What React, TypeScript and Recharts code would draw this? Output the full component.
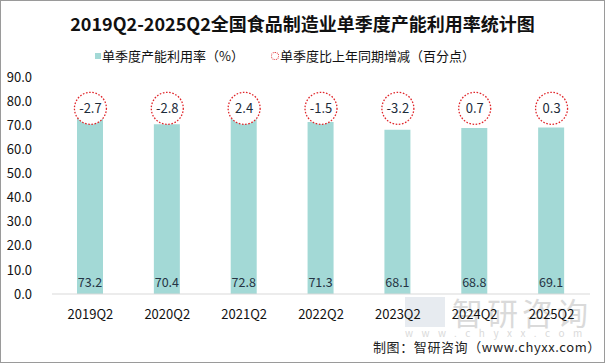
import React from 'react';
import { ComposedChart, Bar, Scatter, XAxis, YAxis, Legend, LabelList } from 'recharts';

const quarters = ['2019Q2', '2020Q2', '2021Q2', '2022Q2', '2023Q2', '2024Q2', '2025Q2'];
const utilization = [73.2, 70.4, 72.8, 71.3, 68.1, 68.8, 69.1];
const yoyChange = [-2.7, -2.8, 2.4, -1.5, -3.2, 0.7, 0.3];
// the bubbles sit on a flat helper series, like the original sheet
const bubbleLevel = [77, 77, 77, 77, 77, 77, 77];
const yTicks = [0, 10, 20, 30, 40, 50, 60, 70, 80, 90];

const chartData = quarters.map((q, i) => ({
  quarter: q,
  rate: utilization[i],
  change: yoyChange[i],
  bubble: bubbleLevel[i],
}));

const FONT = '"Noto Sans CJK SC", "Noto Sans", sans-serif';
const BAR_COLOR = '#a3d9d6';
const RED = '#e0262b';

const Bubble = (props: any) => {
  const { cx, cy, payload } = props;
  return (
    <g>
      <circle cx={cx} cy={cy} r={16} fill="#fff" stroke={RED} strokeWidth={1.3} strokeDasharray="1.6 1.6" />
      <text x={cx} y={cy} dy={4.5} textAnchor="middle" fontSize={13} fill="#1c2b3a" fontFamily={FONT}>
        {payload.change}
      </text>
    </g>
  );
};

const BottomLabel = (props: any) => {
  const { x, width, value } = props;
  return (
    <text x={x + width / 2} y={287} textAnchor="middle" fontSize={12.5} fill="#253444" fontFamily={FONT}>
      {Number(value).toFixed(1)}
    </text>
  );
};

const LegendContent = () => (
  <div style={{ display: 'flex', fontFamily: FONT, fontSize: 13, color: '#111', lineHeight: '16px' }}>
    <div style={{ position: 'absolute', left: 95, display: 'flex', alignItems: 'center' }}>
      <span style={{ width: 6, height: 6, background: BAR_COLOR, display: 'inline-block', marginRight: 1 }} />
      <span>单季度产能利用率（%）</span>
    </div>
    <div style={{ position: 'absolute', left: 271, display: 'flex', alignItems: 'center' }}>
      <span style={{ width: 6, height: 6, borderRadius: '50%', border: `1px dotted ${RED}`, display: 'inline-block', marginRight: 1 }} />
      <span>单季度比上年同期增减（百分点）</span>
    </div>
  </div>
);

export default function App() {
  return (
    <div style={{ position: 'absolute', left: 0, top: 0, width: 605, height: 363, background: '#fff', fontFamily: FONT, overflow: 'hidden' }}>
      <div style={{ position: 'absolute', left: 0, top: 10, width: 605, textAlign: 'center', fontSize: 18, fontWeight: 700, color: '#111' }}>
        2019Q2-2025Q2全国食品制造业单季度产能利用率统计图
      </div>
      <div style={{ position: 'absolute', left: 405, top: 297, width: 40, height: 30, background: '#dde3ea', opacity: 0.7 }} />
      <div style={{ position: 'absolute', left: 452, top: 292, fontSize: 31, color: '#dadada', letterSpacing: 4, lineHeight: '40px' }}>智研咨询</div>
      <div style={{ position: 'absolute', left: 405, top: 327, width: 190, fontSize: 10, color: '#dadada', letterSpacing: 8.5, lineHeight: '12px' }}>www.chyxx.com</div>
      <div style={{ position: 'absolute', left: 0, top: 0 }}>
        <ComposedChart width={605} height={363} data={chartData} margin={{ top: 77, right: 15, left: 0, bottom: 39 }}>
          <Legend verticalAlign="top" content={<LegendContent />} wrapperStyle={{ top: 48, left: 0, width: 605 }} />
          <XAxis
            dataKey="quarter"
            axisLine={{ stroke: '#d9d9d9' }}
            tickLine={false}
            tickMargin={10}
            height={30}
            tick={{ fontSize: 13, fill: '#111', fontFamily: FONT }}
          />
          <YAxis
            width={52}
            domain={[0, 90]}
            ticks={yTicks}
            axisLine={false}
            tickLine={false}
            tickMargin={14}
            tickFormatter={(v: number) => v.toFixed(1)}
            tick={{ fontSize: 13, fill: '#111', fontFamily: FONT }}
          />
          <Bar dataKey="rate" fill={BAR_COLOR} barSize={26} isAnimationActive={false}>
            <LabelList dataKey="rate" content={<BottomLabel />} />
          </Bar>
          <Scatter dataKey="bubble" shape={<Bubble />} isAnimationActive={false} />
        </ComposedChart>
      </div>
      <div style={{ position: 'absolute', left: 373, top: 337, fontSize: 13, color: '#222', letterSpacing: 0.6 }}>制图：智研咨询（www.chyxx.com）</div>
      <div style={{ position: 'absolute', left: 0, top: 0, width: 605, height: 363, boxSizing: 'border-box', border: '1px solid #9a9a9a', pointerEvents: 'none' }} />
    </div>
  );
}
